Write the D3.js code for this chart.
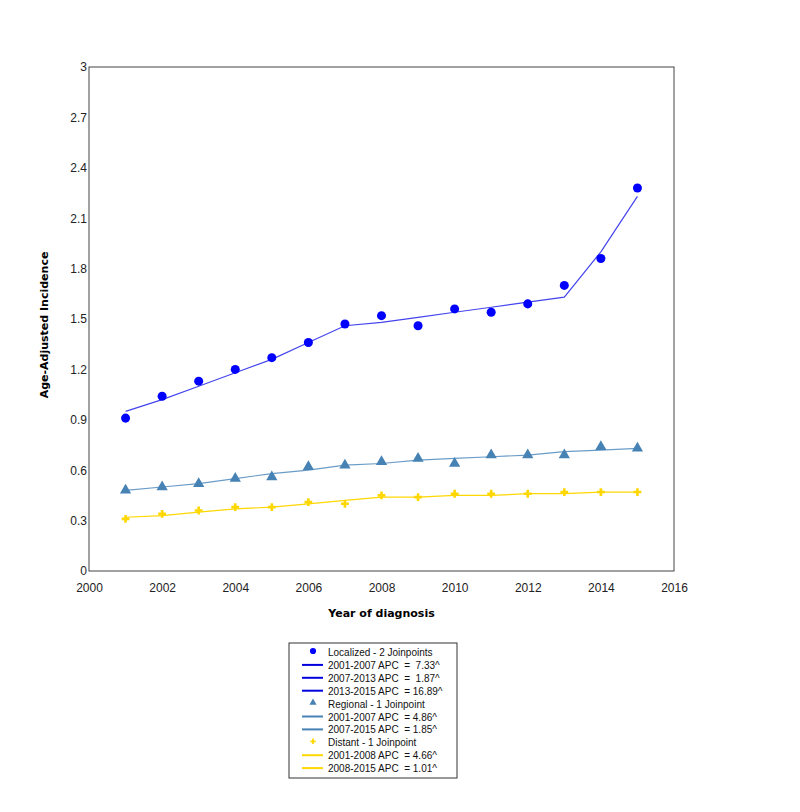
<!DOCTYPE html>
<html>
<head>
<meta charset="utf-8">
<script src="https://cdn.jsdelivr.net/npm/d3@7"></script>
<style>
  body { margin: 0; background: #fff; }
  text { font-family: "Liberation Sans", Arial, sans-serif; }
</style>
</head>
<body>
<div id="chart"></div>
<script>
// data
const years = d3.range(2001, 2016)
const localizedObs = [0.91, 1.04, 1.13, 1.20, 1.27, 1.36, 1.47, 1.52, 1.46, 1.56, 1.54, 1.59, 1.70, 1.86, 2.28]
const localizedFit = [0.95, 1.02, 1.10, 1.18, 1.26, 1.36, 1.46, 1.48, 1.51, 1.54, 1.57, 1.60, 1.63, 1.90, 2.23]
const regionalObs = [0.48, 0.50, 0.52, 0.55, 0.56, 0.62, 0.63, 0.65, 0.67, 0.64, 0.69, 0.69, 0.69, 0.74, 0.73]
const regionalFit = [0.48, 0.50, 0.52, 0.55, 0.58, 0.60, 0.63, 0.64, 0.66, 0.67, 0.68, 0.69, 0.71, 0.72, 0.73]
const distantObs = [0.31, 0.34, 0.36, 0.38, 0.38, 0.41, 0.40, 0.45, 0.44, 0.46, 0.46, 0.46, 0.47, 0.47, 0.47]
const distantFit = [0.32, 0.33, 0.35, 0.37, 0.38, 0.40, 0.42, 0.44, 0.44, 0.45, 0.45, 0.46, 0.46, 0.47, 0.47]
const xTicks = [2000, 2002, 2004, 2006, 2008, 2010, 2012, 2014, 2016]
const yTicks = [0, 0.3, 0.6, 0.9, 1.2, 1.5, 1.8, 2.1, 2.4, 2.7, 3]
const legendRows = [
  {type: 'circle', color: '#0000ff', label: 'Localized - 2 Joinpoints'},
  {type: 'line', color: '#0000dd', label: '2001-2007 APC  =  7.33^'},
  {type: 'line', color: '#0000dd', label: '2007-2013 APC  =  1.87^'},
  {type: 'line', color: '#0000dd', label: '2013-2015 APC  = 16.89^'},
  {type: 'triangle', color: '#4682b4', label: 'Regional - 1 Joinpoint'},
  {type: 'line', color: '#4682b4', label: '2001-2007 APC  = 4.86^'},
  {type: 'line', color: '#4682b4', label: '2007-2015 APC  = 1.85^'},
  {type: 'cross', color: '#ffd700', label: 'Distant - 1 Joinpoint'},
  {type: 'line', color: '#ffd700', label: '2001-2008 APC  = 4.66^'},
  {type: 'line', color: '#ffd700', label: '2008-2015 APC  = 1.01^'}
]

const width = 800, height = 812
const margin = {top: 67, right: 126, bottom: 241, left: 89}
const innerW = width - margin.left - margin.right
const innerH = height - margin.top - margin.bottom

const svg = d3.select('#chart').append('svg')
  .attr('width', width)
  .attr('height', height)

const g = svg.append('g')
  .attr('transform', `translate(${margin.left}, ${margin.top})`)

const x = d3.scaleLinear().domain([2000, 2016]).range([0, innerW])
const y = d3.scaleLinear().domain([0, 3]).range([innerH, 0])

// axes
const xAxis = g.append('g')
  .attr('transform', `translate(0, ${innerH})`)
  .call(d3.axisBottom(x).tickValues(xTicks).tickFormat(d3.format('d')).tickSize(0).tickPadding(12))
xAxis.select('.domain').remove()
xAxis.selectAll('text').style('font-size', '12px').style('fill', '#222')

const yAxis = g.append('g')
  .call(d3.axisLeft(y).tickValues(yTicks).tickFormat(d => d).tickSize(0).tickPadding(2))
yAxis.select('.domain').remove()
yAxis.selectAll('text').style('font-size', '12px').style('fill', '#222')

// frame
g.append('rect')
  .attr('width', innerW)
  .attr('height', innerH)
  .attr('fill', 'none')
  .attr('stroke', '#444')
  .attr('stroke-width', 1)

// titles
svg.append('text')
  .attr('x', margin.left + innerW / 2)
  .attr('y', 617)
  .attr('text-anchor', 'middle')
  .style('font-family', '"DejaVu Sans", Verdana, sans-serif')
  .style('font-weight', 'bold')
  .style('font-size', '11px')
  .text('Year of diagnosis')

svg.append('text')
  .attr('transform', `translate(48, ${margin.top + innerH / 2 + 6}) rotate(-90)`)
  .attr('text-anchor', 'middle')
  .style('font-family', '"DejaVu Sans", Verdana, sans-serif')
  .style('font-weight', 'bold')
  .style('font-size', '11px')
  .text('Age-Adjusted Incidence')

// series
const series = [
  {obs: localizedObs, fit: localizedFit, color: '#0000ff', lineColor: '#4444ee', symbol: d3.symbolCircle, size: 64},
  {obs: regionalObs, fit: regionalFit, color: '#4682b4', lineColor: '#6a9cc8', symbol: d3.symbolTriangle, size: 55},
  {obs: distantObs, fit: distantFit, color: '#ffd700', lineColor: '#ffd700', symbol: d3.symbolCross, size: 34}
]

const line = d3.line()
  .x((d, i) => x(years[i]))
  .y(d => y(d))

series.forEach(s => {
  g.append('path')
    .datum(s.fit)
    .attr('d', line)
    .attr('fill', 'none')
    .attr('stroke', s.lineColor)
    .attr('stroke-width', 1.2)

  g.selectAll(null)
    .data(s.obs)
    .enter().append('path')
    .attr('transform', (d, i) => `translate(${x(years[i])}, ${y(d)})`)
    .attr('d', d3.symbol().type(s.symbol).size(s.size))
    .attr('fill', s.color)
})

// legend
const legX = 289, legY = 643, legW = 168, legH = 135, rowH = 12.9
const legend = svg.append('g')
legend.append('rect')
  .attr('x', legX)
  .attr('y', legY)
  .attr('width', legW)
  .attr('height', legH)
  .attr('fill', '#fff')
  .attr('stroke', '#333')

const rows = legend.selectAll('.legrow')
  .data(legendRows)
  .enter().append('g')
  .attr('class', 'legrow')
  .attr('transform', (d, i) => `translate(${legX}, ${legY + 9 + i * rowH})`)

rows.filter(d => d.type === 'line').append('line')
  .attr('x1', 13).attr('x2', 34)
  .attr('y1', 0).attr('y2', 0)
  .attr('stroke', d => d.color)
  .attr('stroke-width', 2)

const symType = {circle: d3.symbolCircle, triangle: d3.symbolTriangle, cross: d3.symbolCross}
const symSize = {circle: 30, triangle: 22, cross: 16}
rows.filter(d => d.type !== 'line').append('path')
  .attr('transform', 'translate(24, -1)')
  .attr('d', d => d3.symbol().type(symType[d.type]).size(symSize[d.type])())
  .attr('fill', d => d.color)

rows.append('text')
  .attr('x', 39)
  .attr('y', 4)
  .style('font-size', '10px')
  .style('white-space', 'pre')
  .style('fill', '#111')
  .text(d => d.label)
</script>
</body>
</html>
